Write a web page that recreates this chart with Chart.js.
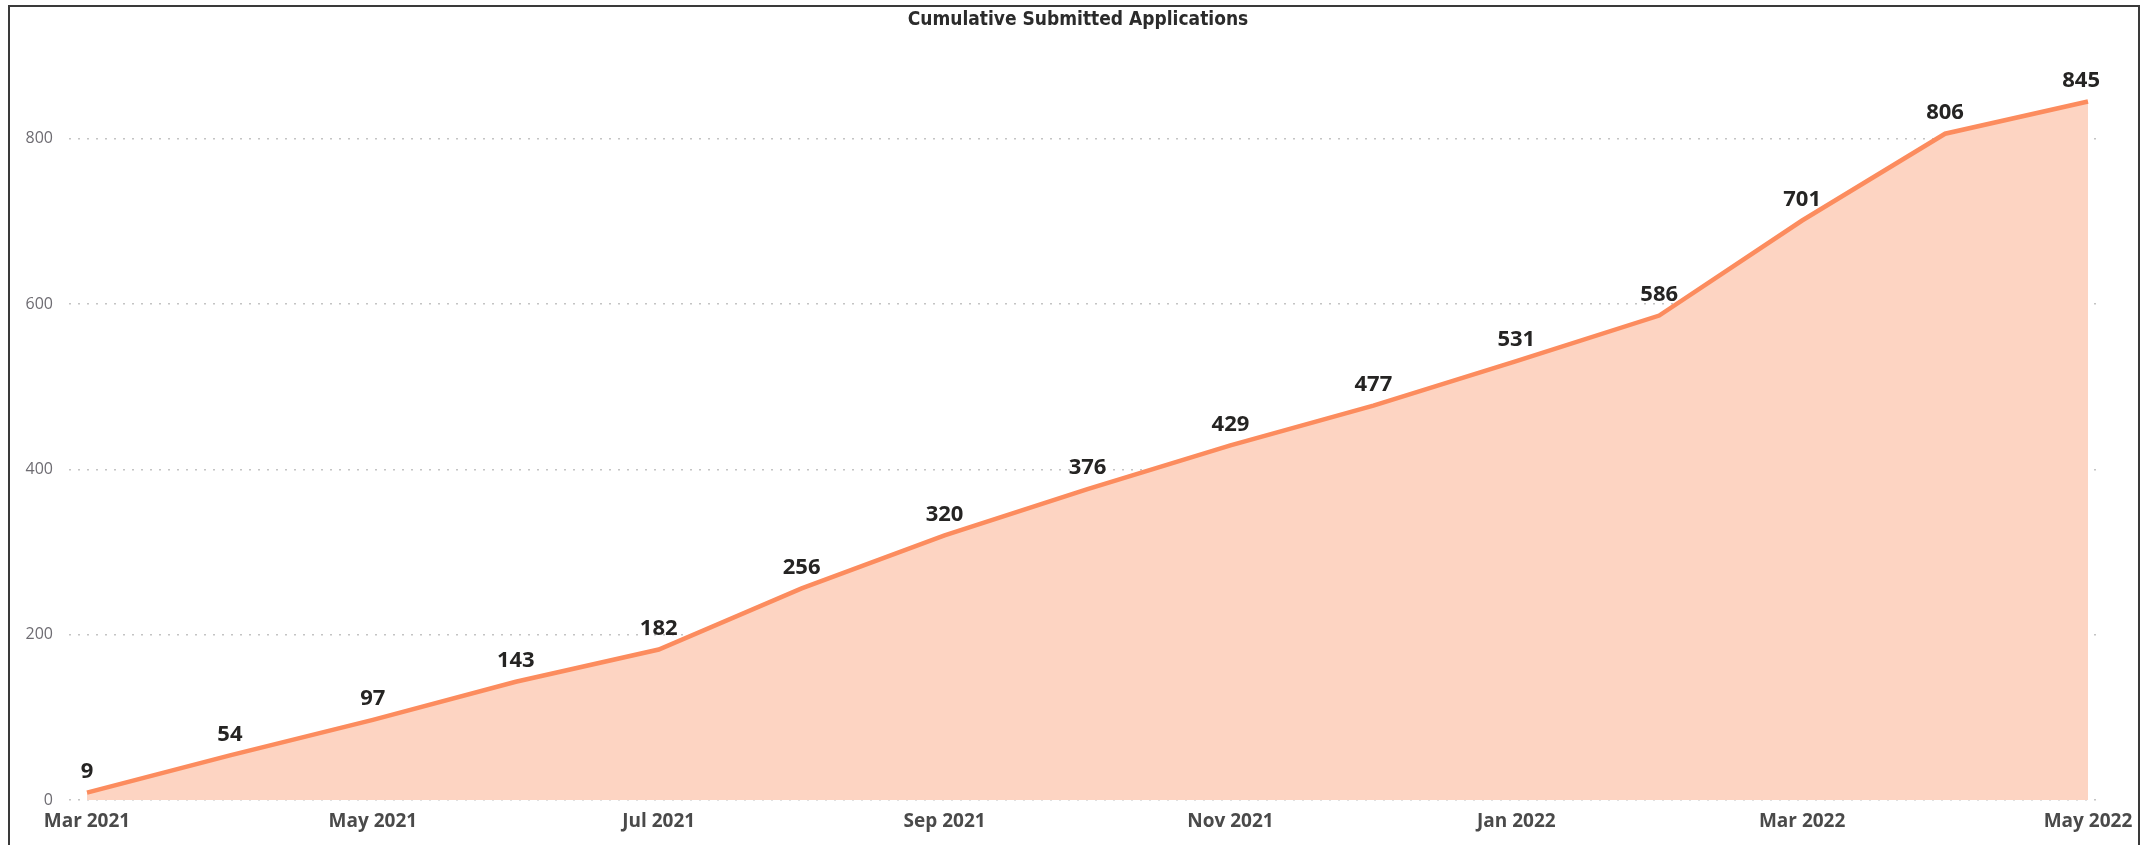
<!DOCTYPE html>
<html>
<head>
<meta charset="utf-8">
<script src="https://cdn.jsdelivr.net/npm/chart.js@4"></script>
<style>
    html, body { margin: 0; padding: 0; background: #fff; }
    #wrap { position: relative; width: 2144px; height: 845px; }
    #frame {
        position: absolute; left: 8px; top: 5px; width: 2128px; height: 860px;
        border: 2px solid #3a3a3a; border-bottom: none; pointer-events: none;
    }
</style>
</head>
<body>
<div id="wrap">
    <canvas id="appChart" width="2144" height="845"></canvas>
    <div id="frame"></div>
</div>
<script>
// months and cumulative totals
const months = ['Mar 2021', 'Apr 2021', 'May 2021', 'Jun 2021', 'Jul 2021', 'Aug 2021', 'Sep 2021',
    'Oct 2021', 'Nov 2021', 'Dec 2021', 'Jan 2022', 'Feb 2022', 'Mar 2022', 'Apr 2022', 'May 2022'];
const submitted = [9, 54, 97, 143, 182, 256, 320, 376, 429, 477, 531, 586, 701, 806, 845];
const yTicks = [0, 200, 400, 600, 800];
const xTickIdx = [0, 2, 4, 6, 8, 10, 12, 14];

// value labels above each point
const pointLabels = {
    id: 'pointLabels',
    afterDatasetsDraw(chart) {
        const ctx = chart.ctx;
        const meta = chart.getDatasetMeta(0);
        const area = chart.chartArea;
        ctx.save();
        ctx.font = 'bold 22px "Open Sans", sans-serif';
        ctx.fillStyle = '#252423';
        ctx.textAlign = 'center';
        ctx.textBaseline = 'middle';
        meta.data.forEach((pt, i) => {
            const txt = String(submitted[i]);
            const w = ctx.measureText(txt).width;
            let x = pt.x;
            if (x + w / 2 > area.right) x = area.right - w / 2;
            ctx.fillText(txt, x, pt.y - 21);
        });
        ctx.restore();
    }
};

const ctx = document.getElementById('appChart').getContext('2d');
new Chart(ctx, {
    type: 'line',
    data: {
        datasets: [{
            label: 'Cumulative Submitted Applications',
            data: submitted.map((v, i) => ({ x: i, y: v })),
            borderColor: '#FC8C5E',
            backgroundColor: '#FDD4C2',
            borderWidth: 4.5,
            fill: 'origin',
            pointRadius: 0,
            tension: 0
        }]
    },
    options: {
        responsive: false,
        animation: false,
        layout: { padding: { left: 12, right: 0, top: 0, bottom: 0 } },
        scales: {
            x: {
                type: 'linear',
                min: -0.126,
                max: 14.084,
                afterBuildTicks: scale => { scale.ticks = xTickIdx.map(v => ({ value: v })); },
                afterFit: scale => { scale.height = 45; },
                grid: { display: false, drawTicks: false },
                border: { display: false },
                ticks: {
                    padding: 10,
                    maxRotation: 0,
                    autoSkip: false,
                    color: '#4a4a4a',
                    font: { family: '"Open Sans", sans-serif', size: 19, weight: 'bold' },
                    callback: v => months[v]
                }
            },
            y: {
                min: 0,
                max: 900,
                afterBuildTicks: scale => { scale.ticks = yTicks.map(v => ({ value: v })); },
                afterFit: scale => { scale.width = 57; },
                grid: { color: '#C4C4C4', lineWidth: 1.5, drawTicks: false },
                border: { display: false, dash: [2, 7] },
                ticks: {
                    padding: 16,
                    color: '#6e6c72',
                    font: { family: '"Open Sans", sans-serif', size: 16 }
                }
            },
            // empty spacer on the right so the title sits where the original has it
            yRight: {
                position: 'right',
                afterFit: scale => { scale.width = 44; },
                grid: { display: false, drawTicks: false },
                border: { display: false },
                ticks: { display: false }
            }
        },
        plugins: {
            legend: { display: false },
            tooltip: { enabled: false },
            title: {
                display: true,
                text: 'Cumulative Submitted Applications',
                color: '#2b2b2b',
                font: { family: '"DejaVu Sans Condensed", sans-serif', size: 19, weight: 'bold' },
                padding: { top: 9, bottom: 24.2 }
            }
        }
    },
    plugins: [pointLabels]
});
</script>
</body>
</html>
